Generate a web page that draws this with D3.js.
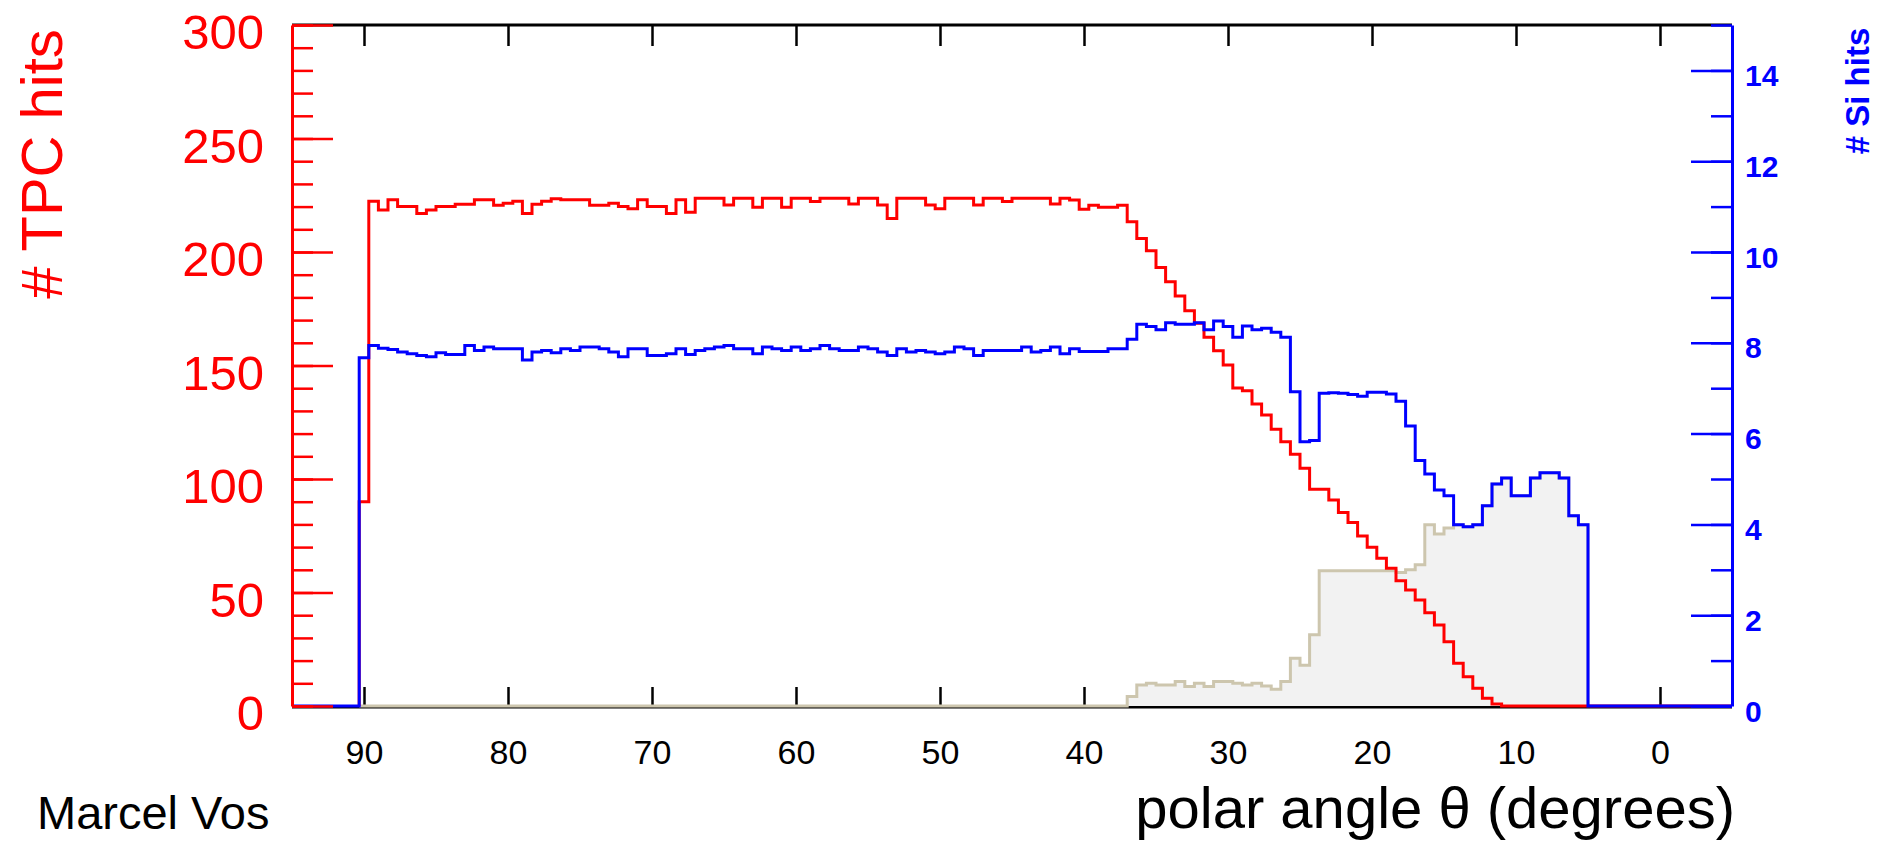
<!DOCTYPE html>
<html>
<head>
<meta charset="utf-8">
<script src="https://cdn.jsdelivr.net/npm/d3@7/dist/d3.min.js"></script>
<style>
    html, body { margin: 0; padding: 0; background: #fff; }
    svg { display: block; }
</style>
</head>
<body>
<div id="chart"></div>
<script>
// Histogram binning: 150 bins of 2/3 degree between 95 and -5 degrees
const thetaDomain = [95, -5];
const binWidth = 2 / 3;

// Average # TPC hits per bin (left axis), first bin starts at 90.33 deg
const tpcStart = 90 + 1 / 3;
const tpcHits = [
    90, 222.4, 218.5, 223, 220, 220, 217, 218.5, 220, 220,
    221, 221, 223, 223, 220.6, 221.5, 222.4, 217, 221, 222.4,
    223.5, 223, 223, 223, 220.6, 220.6, 221.5, 220, 219, 223,
    220, 220, 217, 223, 217.5, 223.7, 223.7, 223.7, 220.7, 223.7,
    223.7, 219.7, 223.7, 223.7, 219.7, 223.7, 223.7, 222.2, 223.7, 223.7,
    223.7, 221.2, 223.7, 223.7, 220.7, 214.8, 223.7, 223.7, 223.7, 220.7,
    219, 223.7, 223.7, 223.7, 220.7, 223.7, 223.7, 222.2, 223.7, 223.7,
    223.7, 223.7, 221.2, 223.7, 222.9, 218.8, 220.6, 219.7, 219.7, 220.6,
    213.3, 206, 200.6, 193.2, 186.9, 180.6, 174.1, 168.6, 162.4, 156.5,
    150.2, 140.1, 138.9, 133, 128.2, 121.9, 116.4, 110.9, 104.7, 95.5,
    95.5, 90.7, 85.2, 80.8, 74.9, 69.9, 65.1, 60.7, 55.2, 51.1,
    46.7, 41.1, 35.7, 28.3, 18.8, 12.9, 7.8, 3.4, 0.9, 0,
    0, 0, 0, 0, 0, 0, 0, 0, 0, 0,
    0, 0, 0, 0, 0, 0, 0, 0, 0, 0,
    0, 0, 0
];

// Average # Si hits per bin (right axis), first bin starts at 95 deg
const siStart = 95;
const siHits = [
    0, 0, 0, 0, 0, 0, 0,
    7.67, 7.94, 7.88, 7.85, 7.80, 7.76, 7.72, 7.69, 7.78, 7.74,
    7.74, 7.94, 7.83, 7.91, 7.87, 7.87, 7.87, 7.62, 7.80, 7.83,
    7.78, 7.87, 7.83, 7.91, 7.91, 7.87, 7.80, 7.69, 7.87, 7.87,
    7.72, 7.72, 7.76, 7.87, 7.74, 7.83, 7.87, 7.91, 7.94, 7.87,
    7.87, 7.76, 7.91, 7.87, 7.83, 7.91, 7.83, 7.87, 7.94, 7.87,
    7.83, 7.83, 7.91, 7.87, 7.80, 7.72, 7.87, 7.80, 7.83, 7.80,
    7.76, 7.80, 7.91, 7.87, 7.72, 7.83, 7.83, 7.83, 7.83, 7.91,
    7.80, 7.83, 7.91, 7.76, 7.87, 7.81, 7.81, 7.81, 7.87, 7.87,
    8.08, 8.41, 8.36, 8.29, 8.44, 8.41, 8.41, 8.44, 8.29, 8.48,
    8.36, 8.12, 8.37, 8.29, 8.32, 8.23, 8.12, 6.92, 5.82, 5.85,
    6.89, 6.90, 6.89, 6.86, 6.82, 6.91, 6.91, 6.87, 6.71, 6.17,
    5.41, 5.11, 4.76, 4.63, 3.99, 3.95, 3.99, 4.41, 4.89, 5.02,
    4.63, 4.63, 5.02, 5.14, 5.14, 5.02, 4.19, 3.99,
    0, 0, 0, 0, 0, 0, 0, 0, 0, 0, 0, 0, 0, 0, 0
];

// Forward Si disk hits (grey filled, right axis), first bin starts at 90.33 deg
const diskStart = 90 + 1 / 3;
const diskHits = [
    0, 0, 0, 0, 0, 0, 0, 0, 0, 0,
    0, 0, 0, 0, 0, 0, 0, 0, 0, 0,
    0, 0, 0, 0, 0, 0, 0, 0, 0, 0,
    0, 0, 0, 0, 0, 0, 0, 0, 0, 0,
    0, 0, 0, 0, 0, 0, 0, 0, 0, 0,
    0, 0, 0, 0, 0, 0, 0, 0, 0, 0,
    0, 0, 0, 0, 0, 0, 0, 0, 0, 0,
    0, 0, 0, 0, 0, 0, 0, 0, 0, 0,
    0.21, 0.46, 0.50, 0.46, 0.46, 0.54, 0.43, 0.50, 0.43, 0.54,
    0.54, 0.50, 0.46, 0.50, 0.44, 0.37, 0.54, 1.05, 0.90, 1.57,
    2.98, 2.98, 2.98, 2.98, 2.98, 2.98, 2.98, 2.98, 2.94, 3.00,
    3.11, 3.99, 3.79, 3.92, 3.99, 3.95, 3.99, 4.41, 4.89, 5.02,
    4.63, 4.63, 5.02, 5.14, 5.14, 5.02, 4.19, 3.99
];

const xTicks = [90, 80, 70, 60, 50, 40, 30, 20, 10, 0];
const tpcTicks = [0, 50, 100, 150, 200, 250, 300];
const siTicks = [0, 2, 4, 6, 8, 10, 12, 14];

const width = 1889, height = 841;
const frame = { left: 292, right: 1732, top: 25, bottom: 706 };
const font = "'Liberation Sans', Arial, Helvetica, sans-serif";

const x = d3.scaleLinear().domain(thetaDomain).range([frame.left, frame.right]);
const yTpc = d3.scaleLinear().domain([0, 300]).range([frame.bottom, frame.top]);
const ySi = d3.scaleLinear().domain([0, 15]).range([frame.bottom, frame.top]);

const svg = d3.select('#chart').append('svg')
    .attr('width', width)
    .attr('height', height);

// step outline of a histogram, closed down to zero at both ends
function stepPoints(start, values) {
    const pts = [[start, 0]];
    values.forEach((v, i) => pts.push([start - i * binWidth, v]));
    const end = start - values.length * binWidth;
    pts.push([end, values[values.length - 1]]);
    pts.push([end, 0]);
    return pts;
}

// frame lines top and bottom
svg.append('line')
    .attr('x1', frame.left).attr('x2', frame.right)
    .attr('y1', frame.top).attr('y2', frame.top)
    .attr('stroke', '#000').attr('stroke-width', 3);
svg.append('line')
    .attr('x1', frame.left).attr('x2', frame.right)
    .attr('y1', frame.bottom + 1).attr('y2', frame.bottom + 1)
    .attr('stroke', '#000').attr('stroke-width', 3);

// bottom x axis: ticks pointing up into the frame
const xAxis = svg.append('g')
    .attr('transform', `translate(0, ${frame.bottom})`)
    .call(d3.axisBottom(x).tickValues(xTicks).tickSize(-19).tickSizeOuter(0).tickPadding(0));
xAxis.select('.domain').remove();
xAxis.selectAll('line').attr('stroke', '#000').attr('stroke-width', 2.5);
xAxis.selectAll('text')
    .attr('y', 0)
    .attr('dy', 58)
    .style('font-family', font)
    .style('font-size', '34px')
    .attr('fill', '#000');

// top x axis: ticks pointing down
const xTop = svg.append('g')
    .attr('transform', `translate(0, ${frame.top})`)
    .call(d3.axisTop(x).tickValues(xTicks).tickSize(-21).tickSizeOuter(0).tickFormat(''));
xTop.select('.domain').remove();
xTop.selectAll('line').attr('stroke', '#000').attr('stroke-width', 2.5);

// grey histogram with filled area
const diskPts = stepPoints(diskStart, diskHits);
svg.append('path')
    .attr('d', d3.area()
        .x(d => x(d[0]))
        .y0(ySi(0))
        .y1(d => ySi(d[1]))
        .curve(d3.curveStepAfter)(diskPts))
    .attr('fill', '#f2f2f2');
svg.append('path')
    .attr('d', d3.line()
        .x(d => x(d[0]))
        .y(d => ySi(d[1]))
        .curve(d3.curveStepAfter)(diskPts))
    .attr('fill', 'none')
    .attr('stroke', '#cdc6ae')
    .attr('stroke-width', 3);

// TPC histogram
svg.append('path')
    .attr('d', d3.line()
        .x(d => x(d[0]))
        .y(d => yTpc(d[1]))
        .curve(d3.curveStepAfter)(stepPoints(tpcStart, tpcHits)))
    .attr('fill', 'none')
    .attr('stroke', '#ff0000')
    .attr('stroke-width', 3);

// Si histogram
svg.append('path')
    .attr('d', d3.line()
        .x(d => x(d[0]))
        .y(d => ySi(d[1]))
        .curve(d3.curveStepAfter)(stepPoints(siStart, siHits)))
    .attr('fill', 'none')
    .attr('stroke', '#0000ff')
    .attr('stroke-width', 3);

// left axis (TPC), red, ticks pointing right
const leftMinor = svg.append('g')
    .attr('transform', `translate(${frame.left}, 0)`)
    .call(d3.axisLeft(yTpc).tickValues(d3.range(0, 301, 10)).tickSize(-21).tickSizeOuter(0).tickFormat(''));
leftMinor.select('.domain').remove();
leftMinor.selectAll('line').attr('stroke', '#ff0000').attr('stroke-width', 2.5);

const leftAxis = svg.append('g')
    .attr('transform', `translate(${frame.left}, 0)`)
    .call(d3.axisLeft(yTpc).tickValues(tpcTicks).tickSize(-41).tickSizeOuter(0).tickPadding(28));
leftAxis.select('.domain').attr('stroke', '#ff0000').attr('stroke-width', 3);
leftAxis.selectAll('line').attr('stroke', '#ff0000').attr('stroke-width', 2.5);
leftAxis.selectAll('text')
    .attr('dy', '0.48em')
    .style('font-family', font)
    .style('font-size', '49px')
    .attr('fill', '#ff0000');

// right axis (Si), blue, ticks pointing left
const rightMinor = svg.append('g')
    .attr('transform', `translate(${frame.right}, 0)`)
    .call(d3.axisRight(ySi).tickValues(d3.range(0, 16, 1)).tickSize(-21).tickSizeOuter(0).tickFormat(''));
rightMinor.select('.domain').remove();
rightMinor.selectAll('line').attr('stroke', '#0000ff').attr('stroke-width', 2.5);

const rightAxis = svg.append('g')
    .attr('transform', `translate(${frame.right}, 0)`)
    .call(d3.axisRight(ySi).tickValues(siTicks).tickSize(-41).tickSizeOuter(0).tickPadding(13));
rightAxis.select('.domain').attr('stroke', '#0000ff').attr('stroke-width', 3);
rightAxis.selectAll('line').attr('stroke', '#0000ff').attr('stroke-width', 2.5);
rightAxis.selectAll('text')
    .attr('dy', '0.5em')
    .style('font-family', font)
    .style('font-size', '30px')
    .style('font-weight', 'bold')
    .attr('fill', '#0000ff');

// axis titles
svg.append('text')
    .attr('transform', 'translate(62, 164) rotate(-90)')
    .attr('text-anchor', 'middle')
    .style('font-family', font)
    .style('font-size', '58px')
    .attr('fill', '#ff0000')
    .text('# TPC hits');

svg.append('text')
    .attr('transform', 'translate(1869, 91) rotate(-90)')
    .attr('text-anchor', 'middle')
    .style('font-family', font)
    .style('font-size', '33px')
    .style('font-weight', 'bold')
    .attr('fill', '#0000ff')
    .text('# Si hits');

svg.append('text')
    .attr('x', 1735)
    .attr('y', 828)
    .attr('text-anchor', 'end')
    .style('font-family', font)
    .style('font-size', '58px')
    .attr('fill', '#000')
    .text('polar angle \u03b8 (degrees)');

svg.append('text')
    .attr('x', 37)
    .attr('y', 829)
    .style('font-family', font)
    .style('font-size', '47px')
    .attr('fill', '#000')
    .text('Marcel Vos');
</script>
</body>
</html>
